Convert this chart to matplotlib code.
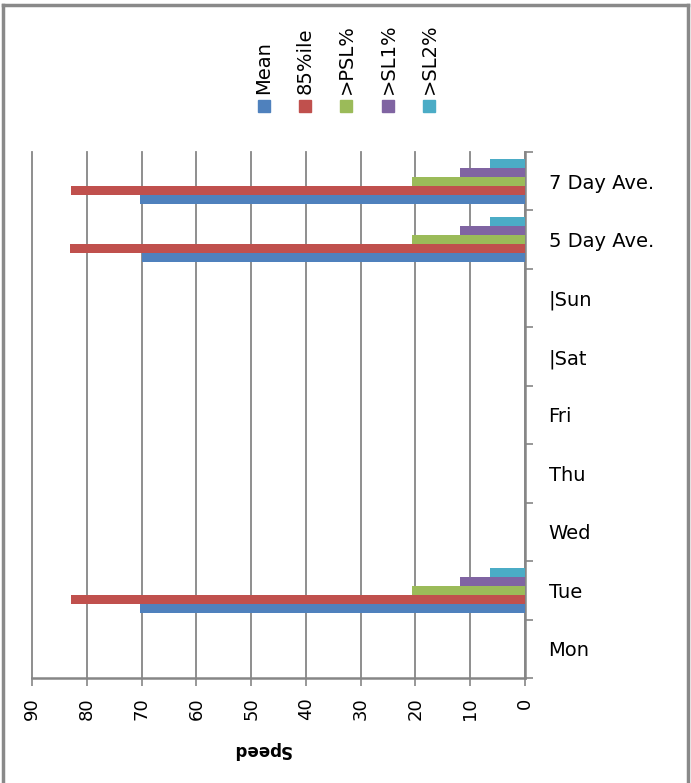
import numpy as np
import matplotlib.pyplot as plt
from matplotlib.patches import Rectangle
from matplotlib.lines import Line2D

plt.rcParams['font.family'] = ['DejaVu Sans']

days = ["Mon", "Tue", "Wed", "Thu", "Fri", "|Sat", "|Sun", "5 Day Ave.", "7 Day Ave."]
series = ["Mean", "85%ile", ">PSL%", ">SL1%", ">SL2%"]
colors = ["#4F81BD", "#C0504D", "#9BBB59", "#8064A2", "#4BACC6"]

# values per series, one per day (0 where no data)
mean_v = [0, 70.2, 0, 0, 0, 0, 0, 70.0, 70.2]
p85_v = [0, 82.9, 0, 0, 0, 0, 0, 83.1, 82.9]
psl_v = [0, 20.6, 0, 0, 0, 0, 0, 20.6, 20.6]
sl1_v = [0, 11.9, 0, 0, 0, 0, 0, 11.9, 11.9]
sl2_v = [0, 6.3, 0, 0, 0, 0, 0, 6.3, 6.3]
values = [mean_v, p85_v, psl_v, sl1_v, sl2_v]

W, H = 691, 783
fig = plt.figure(figsize=(W / 100, H / 100), dpi=100)
ax = fig.add_axes([32 / W, 1 - 678 / H, (525 - 32) / W, (678 - 152) / H])

grey = "#868686"
y = np.arange(len(days))
h = 0.155
for i, (name, vals, c) in enumerate(zip(series, values, colors)):
    ax.barh(y + (i - 2) * h, vals, height=h, color=c, label=name, zorder=3)

ax.set_xlim(90, 0)
ax.set_ylim(-0.5, len(days) - 0.5)
ax.set_xticks(np.arange(0, 91, 10))
ax.tick_params(axis="x", labelrotation=90, labelsize=13, direction="out",
               length=6, width=1.2, color=grey, pad=8)
ax.xaxis.grid(True, color=grey, linewidth=1.3, zorder=0)
for gl in ax.get_xgridlines():
    gl.set_clip_on(False)

ax.yaxis.tick_right()
ax.set_yticks(y)
ax.set_yticklabels(days)
ax.set_yticks(np.arange(-0.5, len(days), 1), minor=True)
ax.tick_params(axis="y", which="major", length=0, labelsize=14, pad=17)
ax.tick_params(axis="y", which="minor", length=6, width=1.2, color=grey,
               direction="out")

for s in ["left", "top"]:
    ax.spines[s].set_visible(False)
for s in ["right", "bottom"]:
    ax.spines[s].set_color(grey)
    ax.spines[s].set_linewidth(1.8)

fig.text(261 / W, 1 - 750 / H, "Speed", rotation=180, ha="center", va="center",
         fontsize=12, fontweight="bold")

# legend, rotated like the reference
leg_x = [264, 305, 346, 388, 429]
for lx, name, c in zip(leg_x, series, colors):
    fig.add_artist(Rectangle(((lx - 6) / W, 1 - 112 / H), 12 / W, 12 / H,
                             transform=fig.transFigure, color=c))
    fig.text(lx / W, 1 - 94 / H, name, rotation=90, ha="center", va="bottom",
             fontsize=14)

# outer frame
fig.add_artist(Line2D([3 / W, 3 / W], [0, 1 - 5 / H], transform=fig.transFigure,
                      color="#898989", linewidth=2.5))
fig.add_artist(Line2D([3 / W, 688 / W], [1 - 5 / H, 1 - 5 / H],
                      transform=fig.transFigure, color="#898989", linewidth=2.5))
fig.add_artist(Line2D([688 / W, 688 / W], [0, 1 - 5 / H], transform=fig.transFigure,
                      color="#898989", linewidth=2.5))

fig.savefig("out.png", dpi=100)
